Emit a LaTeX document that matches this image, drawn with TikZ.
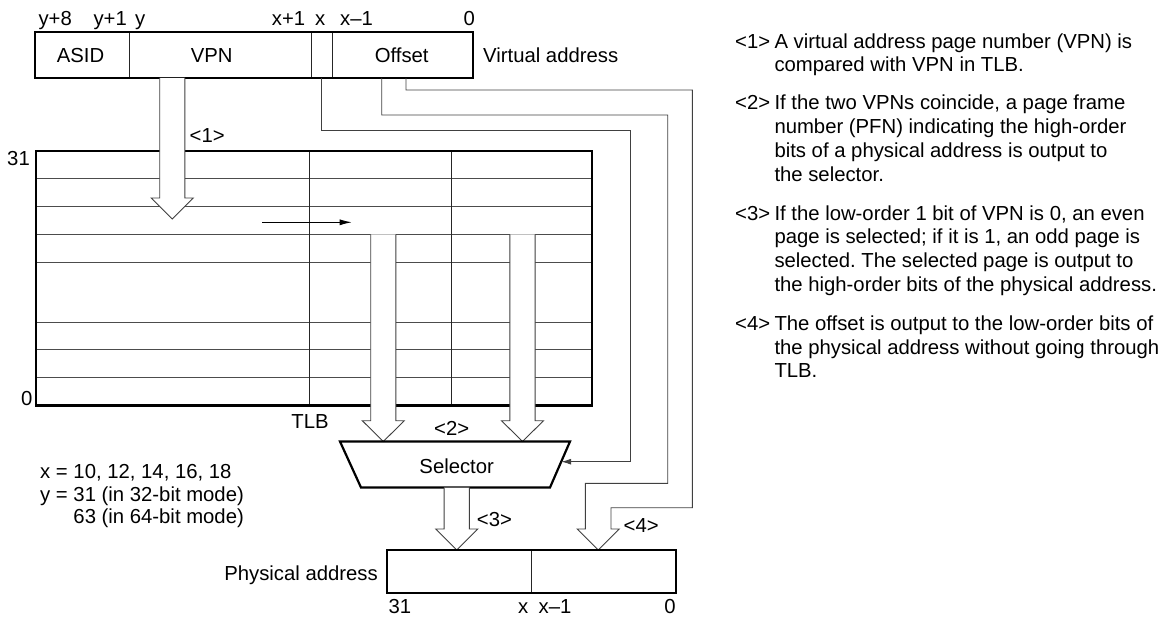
\documentclass[tikz,border=0pt]{standalone}
\usepackage{fontspec}
\setmainfont{Liberation Sans}
\usetikzlibrary{arrows.meta,calc}
\frenchspacing

% hollow block arrow: #1 centre x, #2 top y, #3 y where the head starts, #4 tip y
\newcommand{\hollowarrow}[4]{%
  \path[bigarrow] (#1-12.6,#2) -- (#1-12.6,#3) -- (#1-21,#3) -- (#1,#4)
    -- (#1+21,#3) -- (#1+12.6,#3) -- (#1+12.6,#2);
}

\begin{document}
\begin{tikzpicture}[x=1pt,y=-1pt,
  txt/.style={font=\fontsize{20.3}{24}\selectfont, inner sep=0pt},
  thinline/.style={line width=0.9pt, draw=black!85},
  gridline/.style={line width=0.9pt, draw=black!70},
  border/.style={line width=2.2pt, draw=black, line join=miter},
  bigarrow/.style={fill=white, draw=black!75, line width=0.9pt, line join=miter},
  conn/.style={line width=0.9pt, draw=black!75, line join=miter},
  smalltip/.style={-{Latex[length=10pt,width=6pt]}}]

\useasboundingbox (0,0) rectangle (1168,618);

% ---------- virtual address ----------
\draw[thinline] (129,32) -- (129,78) (311,32) -- (311,78) (332,32) -- (332,78);
\draw[border] (35,32) rectangle (473,78);
\node[txt, anchor=base] (asid) at (80.5,62.5) {ASID};
\node[txt, anchor=base] (vpn) at (211.7,62.5) {VPN};
\node[txt, anchor=base] (offs) at (401.7,62.5) {Offset};
\node[txt, anchor=base west] (valbl) at (483,62.5) {Virtual address};

\node[txt, anchor=base west] (b1) at (38.3,25.7) {y+8};
\node[txt, anchor=base west] (b2) at (93.3,25.7) {y+1};
\node[txt, anchor=base west] (b3) at (135,25.7) {y};
\node[txt, anchor=base west] (b4) at (271.7,25.7) {x+1};
\node[txt, anchor=base west] (b5) at (315,25.7) {x};
\node[txt, anchor=base west] (b6) at (340,25.7) {x–1};
\node[txt, anchor=base west] (b7) at (463.3,25.7) {0};

% ---------- TLB ----------
\foreach \ry in {178.8,206.6,234.4,262.2,322.1,349.9,377.7}
  \draw[gridline] (36,\ry) -- (592,\ry);
\draw[thinline] (309,151) -- (309,405.5) (451.7,151) -- (451.7,405.5);
\draw[border] (36,151) rectangle (592,405.5);
\node[txt, anchor=base east] (top31) at (30,165) {31};
\node[txt, anchor=base east] (bot0) at (32.5,405) {0};
\node[txt, anchor=base] (tlb) at (310,428.3) {TLB};

% comparison inside the TLB
\coordinate (cmpA) at (262.3,222.3);
\coordinate (cmpB) at (351.7,222.3);
\draw[line width=0.9pt, -{Latex[length=12pt,width=6pt]}] (cmpA) -- (cmpB);

% VPN into the TLB, PFNs out to the selector
\hollowarrow{172.3}{78}{198}{219}
\node[txt, anchor=base west] (m1) at (189.5,142.5) {<1>};
\hollowarrow{383.3}{234.4}{420.7}{441.5}
\hollowarrow{522.5}{234.4}{420.7}{441.5}
\node[txt, anchor=base] (m2) at (451.7,435) {<2>};

% ---------- selector ----------
\coordinate (s1) at (340,441.5);
\coordinate (s2) at (570,441.5);
\coordinate (s3) at (550,487.5);
\coordinate (s4) at (361,487.5);
\draw[border] (s1) -- (s2) -- (s3) -- (s4) -- cycle;
\node[txt, anchor=base] (sel) at (456.7,473.5) {Selector};

% selected page to the physical address
\hollowarrow{456.7}{487.5}{529}{550}
\node[txt, anchor=base west] (m3) at (476.7,526) {<3>};

% ---------- connectors from the offset and low VPN bit ----------
\coordinate (lowbit) at (321.5,78);
\coordinate (offA) at (381.7,78);
\coordinate (offB) at (406,78);
\coordinate (selin) at ($(s2)!0.44!(s3)$);
\draw[conn, smalltip] (lowbit) -- (321.5,130.7) -- (630,130.7) -- (630,461.7) -- (selin |- 0,461.7);

% offset lines forming the shaft of arrow <4>
\draw[conn] (offA) -- (381.7,115) -- (667.7,115) -- (667.7,483.3) -- (585.3,483.3)
  -- (585.3,529) -- (577.3,529) -- (598.3,550) -- (619.3,529) -- (611,529)
  -- (611,507.7) -- (692.3,507.7) -- (692.3,90) -- (406,90) -- (offB);
\node[txt, anchor=base west] (m4) at (623.5,532.5) {<4>};

% ---------- physical address ----------
\draw[thinline] (531.7,550) -- (531.7,593);
\draw[border] (387,550) rectangle (676,593);
\node[txt, anchor=base east] (palbl) at (378,580) {Physical address};
\node[txt, anchor=base west] (p1) at (388.3,613.5) {31};
\node[txt, anchor=base] (p2) at (523.3,613.5) {x};
\node[txt, anchor=base] (p3) at (555,613.5) {x–1};
\node[txt, anchor=base] (p4) at (670,613.5) {0};

% ---------- parameter notes ----------
\node[txt, anchor=base west] (n1) at (40,478.5) {x = 10, 12, 14, 16, 18};
\node[txt, anchor=base west] (n2) at (40,501) {y = 31 (in 32-bit mode)};
\node[txt, anchor=base west] (n3) at (40,523.5) {\phantom{y = }63 (in 64-bit mode)};

% ---------- explanation ----------
\node[txt, anchor=base west] (k1) at (735,48.3) {<1>};
\node[txt, anchor=base west] (k1a) at (774.3,48.3) {A virtual address page number (VPN) is};
\node[txt, anchor=base west] (k1b) at (774.3,72) {compared with VPN in TLB.};

\node[txt, anchor=base west] (k2) at (735,110) {<2>};
\node[txt, anchor=base west] (k2a) at (774.3,110) {If the two VPNs coincide, a page frame};
\node[txt, anchor=base west] (k2b) at (774.3,133.7) {number (PFN) indicating the high-order};
\node[txt, anchor=base west] (k2c) at (774.3,157.4) {bits of a physical address is output to};
\node[txt, anchor=base west] (k2d) at (774.3,181.1) {the selector.};

\node[txt, anchor=base west] (k3) at (735,220) {<3>};
\node[txt, anchor=base west] (k3a) at (774.3,220) {If the low-order 1 bit of VPN is 0, an even};
\node[txt, anchor=base west] (k3b) at (774.3,243.7) {page is selected; if it is 1, an odd page is};
\node[txt, anchor=base west] (k3c) at (774.3,267.4) {selected. The selected page is output to};
\node[txt, anchor=base west] (k3d) at (774.3,291.1) {the high-order bits of the physical address.};

\node[txt, anchor=base west] (k4) at (735,330.5) {<4>};
\node[txt, anchor=base west] (k4a) at (774.3,330.5) {The offset is output to the low-order bits of};
\node[txt, anchor=base west] (k4b) at (774.3,354.2) {the physical address without going through};
\node[txt, anchor=base west] (k4c) at (774.3,377.9) {TLB.};
\end{tikzpicture}
\end{document}
